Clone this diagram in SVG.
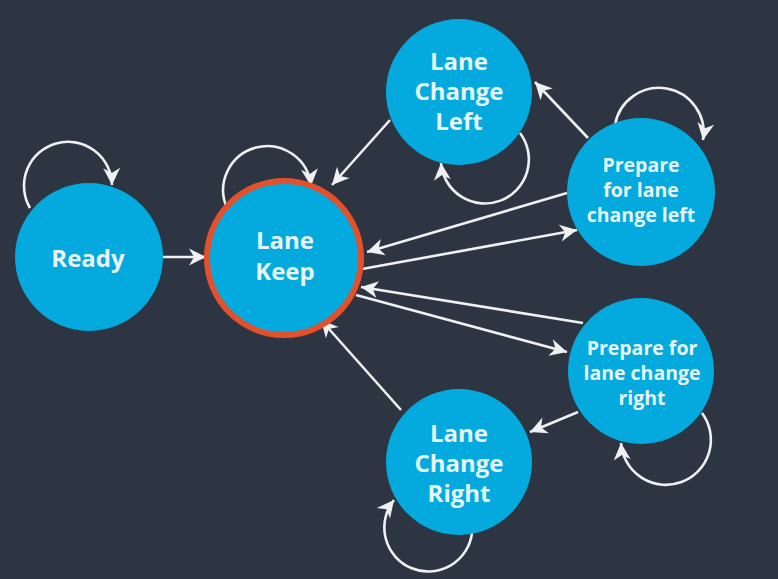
<svg xmlns="http://www.w3.org/2000/svg" width="778" height="579" viewBox="0 0 778 579">
  <style>
    .state { fill: #04a9dd; }
    .ring { fill: none; stroke: #e2512b; stroke-width: 6; }
    .label { fill: #e6f6fc; font-family: "Open Sans", "Noto Sans", "Liberation Sans", sans-serif; font-weight: bold; text-anchor: middle; }
    .big { font-size: 24px; }
    .small { font-size: 19.5px; }
    .edge { fill: none; stroke: #eef0f2; stroke-width: 2.6; marker-end: url(#head); }
  </style>
  <defs>
    <marker id="head" markerUnits="userSpaceOnUse" viewBox="-18 -10 19 20" refX="0" refY="0" markerWidth="19" markerHeight="20" orient="auto">
      <path d="M0,0 L-17,-8.5 L-12,0 L-17,8.5 Z" fill="#eef0f2"/>
    </marker>
  </defs>

  <rect width="778" height="579" fill="#2c3541"/>

  <!-- transitions -->
  <g id="connectors">
    <!-- self loops -->
    <path class="edge" d="M30,208 A44,44 0 1 1 112,185"/>
    <path class="edge" d="M227,208 A44,44 0 1 1 311,186"/>
    <path class="edge" d="M520,133 A44,44 0 1 1 441,163"/>
    <path class="edge" d="M615,125 A44,44 0 1 1 703,140"/>
    <path class="edge" d="M702,413 A45,45 0 1 1 621,443"/>
    <path class="edge" d="M472,533 A44,44 0 1 1 394,500"/>
    <!-- straight transitions -->
    <path class="edge" d="M163,257 L206,257"/>
    <path class="edge" d="M390,120 L332,185"/>
    <path class="edge" d="M588,138 L535,82"/>
    <path class="edge" d="M567,193 L367,252"/>
    <path class="edge" d="M362,269 L577,230"/>
    <path class="edge" d="M583,323 L361,287"/>
    <path class="edge" d="M356,295 L567,352"/>
    <path class="edge" d="M578,412 L530,432"/>
    <path class="edge" d="M401,410 L321,320"/>
  </g>

  <g id="ready">
    <circle class="state" cx="89" cy="257" r="74"/>
    <text class="label big" x="88" y="267">Ready</text>
  </g>

  <g id="lane-keep">
    <circle class="state" cx="284" cy="258" r="75"/>
    <circle class="ring" cx="284" cy="258" r="77"/>
    <text class="label big" x="285" y="249">Lane</text>
    <text class="label big" x="285" y="280">Keep</text>
  </g>

  <g id="lane-change-left">
    <circle class="state" cx="459" cy="92" r="73"/>
    <text class="label big" x="459" y="70">Lane</text>
    <text class="label big" x="459" y="100">Change</text>
    <text class="label big" x="459" y="130">Left</text>
  </g>

  <g id="prepare-left">
    <circle class="state" cx="641" cy="192" r="74"/>
    <text class="label small" x="641" y="172">Prepare</text>
    <text class="label small" x="641" y="197">for lane</text>
    <text class="label small" x="641" y="222">change left</text>
  </g>

  <g id="prepare-right">
    <circle class="state" cx="641" cy="371" r="73"/>
    <text class="label small" x="642" y="355">Prepare for</text>
    <text class="label small" x="642" y="380">lane change</text>
    <text class="label small" x="642" y="405">right</text>
  </g>

  <g id="lane-change-right">
    <circle class="state" cx="459" cy="462" r="73"/>
    <text class="label big" x="459" y="442">Lane</text>
    <text class="label big" x="459" y="472">Change</text>
    <text class="label big" x="459" y="502">Right</text>
  </g>
</svg>
